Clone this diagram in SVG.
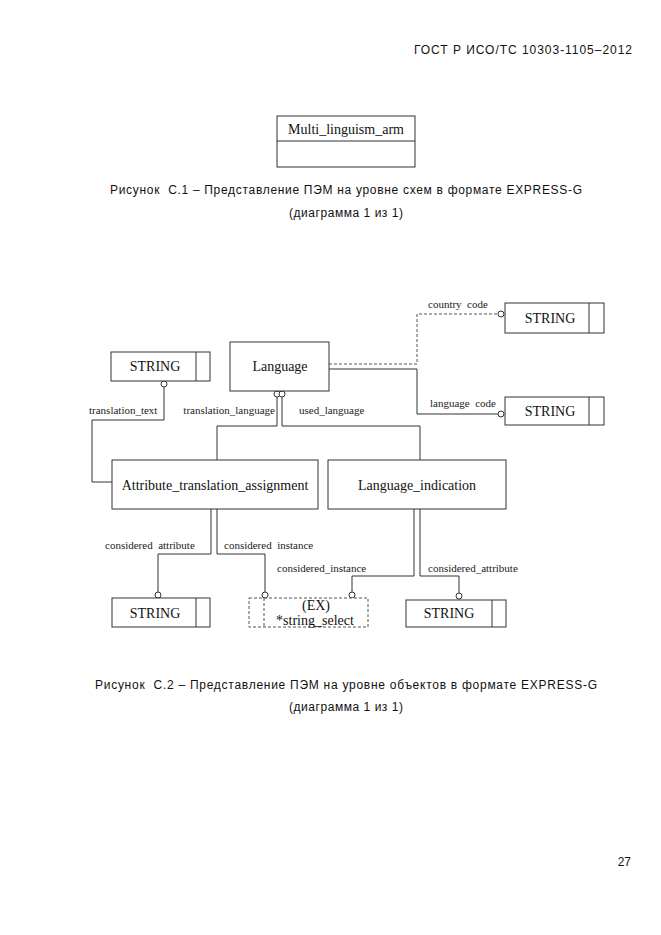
<svg xmlns="http://www.w3.org/2000/svg" width="661" height="935" viewBox="0 0 661 935">
<style>
.bg{fill:#fff}
.box{fill:#fff;stroke:#333;stroke-width:1}
.dbox{fill:#fff;stroke:#555;stroke-width:1;stroke-dasharray:3,2}
.ln{fill:none;stroke:#333;stroke-width:1}
.dln{fill:none;stroke:#555;stroke-width:1;stroke-dasharray:3,2}
.circ{fill:#fff;stroke:#333;stroke-width:1}
.nt{font-family:"Liberation Serif","Times New Roman",serif;font-size:14px;fill:#111;text-anchor:middle}
.lb{font-family:"Liberation Serif","Times New Roman",serif;font-size:11px;fill:#222;white-space:pre}
.cap{font-family:"Liberation Sans",Arial,sans-serif;font-size:12px;fill:#111;text-anchor:middle;white-space:pre}
.hd{font-family:"Liberation Sans",Arial,sans-serif;font-size:12px;fill:#111}
</style>
<rect class="bg" x="0" y="0" width="661" height="935"/>
<text class="hd" x="414" y="54" textLength="218" lengthAdjust="spacing">ГОСТ Р ИСО/ТС 10303-1105–2012</text>

<g id="multi_linguism_arm">
<rect class="box" x="277" y="116" width="138" height="51"/>
<line class="ln" x1="277" y1="141" x2="415" y2="141"/>
<text class="nt" x="346" y="134">Multi_linguism_arm</text>
</g>
<text class="cap" x="346" y="194" textLength="472" lengthAdjust="spacing">Рисунок  С.1 – Представление ПЭМ на уровне схем в формате EXPRESS-G</text>
<text class="cap" x="346" y="217" textLength="114" lengthAdjust="spacing">(диаграмма 1 из 1)</text>

<g id="connectors">
<path class="dln" d="M329,364 H417 V314 H498"/>
<path class="ln" d="M329,369 H417 V414 H498"/>
<path class="ln" d="M164,387 V420 H92 V482 H112"/>
<path class="ln" d="M277,397 V426 H217 V460"/>
<path class="ln" d="M282,397 V426 H420 V460"/>
<path class="ln" d="M211,509 V554 H158 V592"/>
<path class="ln" d="M217,509 V554 H265 V592"/>
<path class="ln" d="M414,509 V576 H352 V592"/>
<path class="ln" d="M420,509 V576 H459 V593"/>
<circle class="circ" cx="501" cy="314" r="3"/>
<circle class="circ" cx="501" cy="414" r="3"/>
<circle class="circ" cx="164" cy="384" r="3"/>
<circle class="circ" cx="277" cy="394" r="3"/>
<circle class="circ" cx="282" cy="394" r="3"/>
<circle class="circ" cx="158" cy="595" r="3"/>
<circle class="circ" cx="265" cy="595" r="3"/>
<circle class="circ" cx="352" cy="595" r="3"/>
<circle class="circ" cx="459" cy="596" r="3"/>
<text class="lb" x="428" y="308">country  code</text>
<text class="lb" x="430" y="407">language  code</text>
<text class="lb" x="89" y="414">translation_text</text>
<text class="lb" x="275" y="414" text-anchor="end">translation_language</text>
<text class="lb" x="299" y="414">used_language</text>
<text class="lb" x="105" y="549">considered  attribute</text>
<text class="lb" x="224" y="549">considered  instance</text>
<text class="lb" x="277" y="572">considered_instance</text>
<text class="lb" x="428" y="572">considered_attribute</text>
</g>

<g id="string_tt">
<rect class="box" x="111" y="352" width="99" height="29"/>
<line class="ln" x1="196" y1="352" x2="196" y2="381"/>
<text class="nt" x="155" y="371">STRING</text>
</g>
<g id="language">
<rect class="box" x="230" y="342" width="99" height="49"/>
<text class="nt" x="280" y="371">Language</text>
</g>
<g id="string_cc">
<rect class="box" x="505" y="303" width="99" height="30"/>
<line class="ln" x1="589" y1="303" x2="589" y2="333"/>
<text class="nt" x="550" y="323">STRING</text>
</g>
<g id="string_lc">
<rect class="box" x="505" y="397" width="99" height="28"/>
<line class="ln" x1="589" y1="397" x2="589" y2="425"/>
<text class="nt" x="550" y="416">STRING</text>
</g>
<g id="attribute_translation_assignment">
<rect class="box" x="112" y="460" width="206" height="49"/>
<text class="nt" x="215" y="490">Attribute_translation_assignment</text>
</g>
<g id="language_indication">
<rect class="box" x="328" y="460" width="178" height="49"/>
<text class="nt" x="417" y="490">Language_indication</text>
</g>
<g id="string_ca1">
<rect class="box" x="112" y="598" width="98" height="29"/>
<line class="ln" x1="196" y1="598" x2="196" y2="627"/>
<text class="nt" x="155" y="618">STRING</text>
</g>
<g id="string_select">
<rect class="dbox" x="249" y="598" width="119" height="29"/>
<line class="dln" x1="264" y1="598" x2="264" y2="627"/>
<text class="nt" x="316" y="610">(EX)</text>
<text class="nt" x="315" y="625">*string_select</text>
</g>
<g id="string_ca2">
<rect class="box" x="406" y="600" width="100" height="27"/>
<line class="ln" x1="492" y1="600" x2="492" y2="627"/>
<text class="nt" x="449" y="618">STRING</text>
</g>

<text class="cap" x="346" y="689" textLength="502" lengthAdjust="spacing">Рисунок  С.2 – Представление ПЭМ на уровне объектов в формате EXPRESS-G</text>
<text class="cap" x="346" y="711" textLength="114" lengthAdjust="spacing">(диаграмма 1 из 1)</text>
<text class="hd" x="631" y="866" text-anchor="end">27</text>
</svg>
